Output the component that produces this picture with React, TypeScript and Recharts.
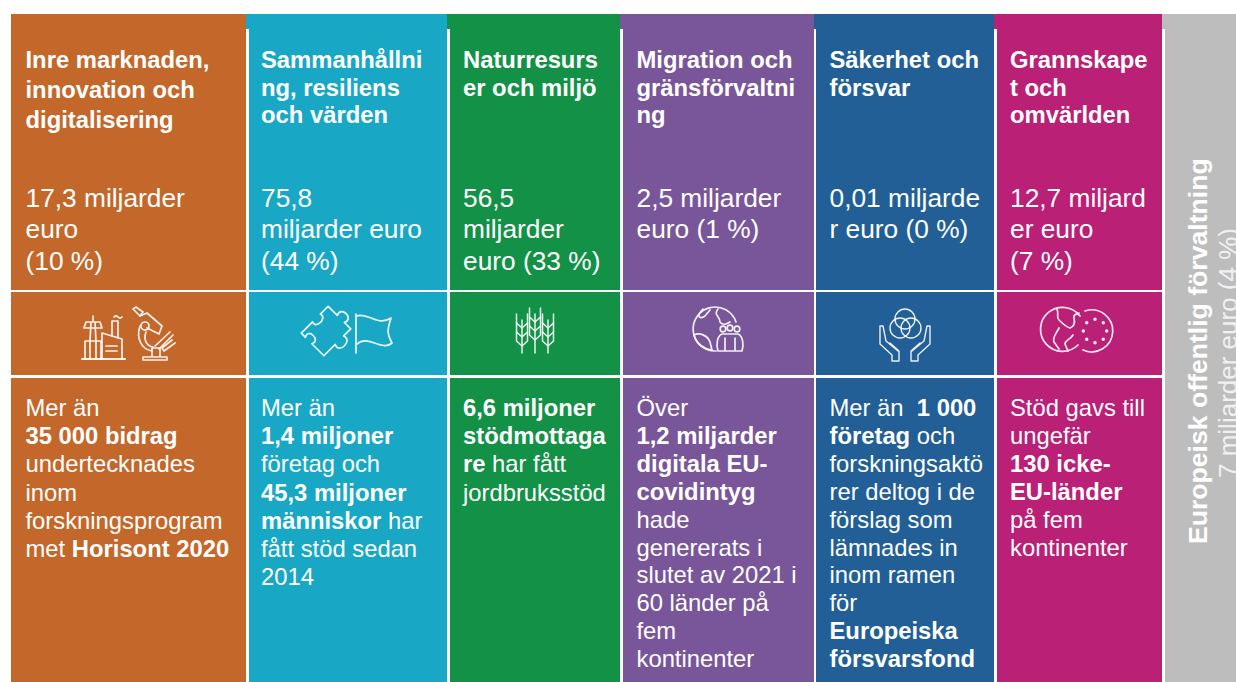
import React from "react";
import { BarChart, Bar, XAxis, YAxis } from "recharts";

const columnKeys = ["inre", "samman", "natur", "migration", "sakerhet", "grannskap", "forvaltning"];
const columnSpans = [235, 201, 173, 194, 180, 168, 74];
const columnColors = ["#C4672A", "#18A8C6", "#129147", "#795699", "#215F96", "#B92076", "#BDBDBD"];

const titles = [
  ["Inre marknaden,", "innovation och", "digitalisering"],
  ["Sammanhållni", "ng, resiliens", "och värden"],
  ["Naturresurs", "er och miljö"],
  ["Migration och", "gränsförvaltni", "ng"],
  ["Säkerhet och", "försvar"],
  ["Grannskape", "t och", "omvärlden"],
];

const amounts = [
  ["17,3 miljarder", "euro", "(10 %)"],
  ["75,8", "miljarder euro", "(44 %)"],
  ["56,5", "miljarder", "euro (33 %)"],
  ["2,5 miljarder", "euro (1 %)"],
  ["0,01 miljarde", "r euro (0 %)"],
  ["12,7 miljard", "er euro", "(7 %)"],
];

// **...** marks bold runs
const bodies = [
  ["Mer än", "**35 000 bidrag**", "undertecknades", "inom", "forskningsprogram", "met **Horisont 2020**"],
  ["Mer än", "**1,4 miljoner**", "företag och", "**45,3 miljoner**", "**människor** har", "fått stöd sedan", "2014"],
  ["**6,6 miljoner**", "**stödmottaga**", "**re** har fått", "jordbruksstöd"],
  ["Över", "**1,2 miljarder**", "**digitala EU-**", "**covidintyg**", "hade", "genererats i", "slutet av 2021 i", "60 länder på", "fem", "kontinenter"],
  ["Mer än  **1 000**", "**företag** och", "forskningsaktö", "rer deltog i de", "förslag som", "lämnades in", "inom ramen", "för", "**Europeiska**", "**försvarsfond**"],
  ["Stöd gavs till", "ungefär", "**130 icke-**", "**EU-länder**", "på fem", "kontinenter"],
];

const sideTitle = "Europeisk offentlig förvaltning";
const sideAmount = "7 miljarder euro (4 %)";

const chartRow = [Object.fromEntries(columnKeys.map((k, i) => [k, columnSpans[i]]))];

const FONT = "'Liberation Sans', Arial, sans-serif";
const textPad = [14.5, 15, 16, 16.5, 15.5, 16];
const gaps = [3, 3, 3, 2, 3, 3];
const titleStep = [30, 27.7, 27.7, 27.7, 27.7, 27.7];
const bodyStep = [28.2, 28.2, 28.2, 27.9, 27.9, 28];

function richLine(line: string) {
  return line.split("**").map((part, i) => (
    <tspan key={i} fontWeight={i % 2 === 1 ? 700 : 400}>
      {part}
    </tspan>
  ));
}

function Wheat({ cx, top, bottom }: { cx: number; top: number; bottom: number }) {
  const rows = [0, 9, 18];
  return (
    <g>
      <path d={`M${cx},${top + 6} V${bottom}`} />
      {rows.map((r) => (
        <path
          key={r}
          d={`M${cx - 5.5},${top + r} V${top + r + 9} L${cx},${top + r + 14} L${cx + 5.5},${top + r + 9} V${top + r}`}
        />
      ))}
    </g>
  );
}

function Icon({ col }: { col: number }) {
  const common = { fill: "none", stroke: "#fff", strokeWidth: 1.7, strokeOpacity: 0.9, strokeLinejoin: "round" as const, strokeLinecap: "round" as const };
  if (col === 0) {
    return (
      <g {...common}>
        <path d="M82,359 H125" strokeWidth={2} />
        <path d="M85,359 V341 H101 V359 M90,359 V341 M96,359 V341" />
        <path d="M90,341 L91,322 H95 L96,341 M84,328 H102 L100,322 H86 Z M93,322 V316" />
        <path d="M102,359 V333 L122,339 V359 M106,346 H117 M106,351 H117" />
        <path d="M112,336 V321 H118 V338 M114,317 q2,-2 4,0 t4,0" />
        <path d="M133,309 L136,307 L143,312 L140,316 Z" />
        <path d="M140,316 L147,313 L162,326 L159,334 L147,328" />
        <circle cx={145} cy={326} r={4} />
        <path d="M140,326 C136,338 141,349 152,351 M146,332 C143,340 147,346 153,347" />
        <path d="M170,332 L155,346 M173,335 L159,349 M175,343 L164,351 L162,348 L172,340" />
        <path d="M143,360 H167 V357 H143 Z M152,357 V348 H160 V357" />
      </g>
    );
  }
  if (col === 1) {
    return (
      <g {...common}>
        <g transform="translate(326,331) rotate(45)">
          <path d="M-12,-19 H-3 C-8,-29 12,-29 7,-19 H16 V-9 C26,-13 26,8 16,3 V19 H-1 C4,10 -16,10 -10,19 H-16 V3 C-8,7 -8,-11 -16,-8 V-19 Z" />
        </g>
        <path d="M356,314 V353" />
        <path d="M357,316 C368,312 378,327 391,318 C388,328 386,332 392,343 C382,352 368,334 357,344" />
      </g>
    );
  }
  if (col === 2) {
    return (
      <g {...common} strokeWidth={1.5}>
        <Wheat cx={522} top={314} bottom={353} />
        <Wheat cx={535} top={308} bottom={353} />
        <Wheat cx={548} top={314} bottom={353} />
      </g>
    );
  }
  if (col === 3) {
    return (
      <g {...common}>
        <path d="M736,322 A22,22 0 1 0 716,351" />
        <path d="M703,309 C696,316 699,320 705,316 L710,310 M694,335 C700,332 708,336 710,342 L712,350 C704,349 696,344 694,335 Z M718,309 C713,315 720,316 720,322 C722,325 726,325 730,322" />
        <circle cx={723} cy={329} r={2.8} />
        <circle cx={730} cy={328} r={2.8} />
        <circle cx={737} cy={329} r={2.8} />
        <path d="M718,351 C716,345 717,336 722,334 H738 C743,336 744,345 742,351 Z M725,351 V338 M735,351 V338" />
      </g>
    );
  }
  if (col === 4) {
    return (
      <g {...common} strokeWidth={1.4}>
        <circle cx={905} cy={319} r={10} />
        <circle cx={900} cy={328} r={10} />
        <circle cx={911} cy={328} r={10} />
        <path d="M880,326 L883,326 L886,341 L898,351 M880,326 L880,344 L892,355 V361 H899 L899,351 L890,343" />
        <path d="M930,326 L927,326 L924,341 L912,351 M930,326 L930,344 L918,355 V361 H911 L911,351 L920,343" />
      </g>
    );
  }
  if (col === 5) {
    const stars = [0, 45, 90, 135, 180, 225, 270, 315];
    return (
      <g {...common}>
        <path d="M1080,316 A22,22 0 1 0 1078,345" />
        <path d="M1057,309 C1059,314 1056,317 1059,320 C1063,324 1066,327 1070,328 C1075,326 1075,322 1074,318 C1073,315 1076,314 1079,313" />
        <path d="M1059,328 C1056,334 1052,338 1054,342 L1059,349 M1073,335 C1070,340 1065,340 1065,344 L1068,351" />
        <path d="M1085,311 A21,21 0 1 1 1083,350" />
        {stars.map((a) => (
          <circle
            key={a}
            cx={1095 + 11.7 * Math.cos((a * Math.PI) / 180)}
            cy={331 + 11.7 * Math.sin((a * Math.PI) / 180)}
            r={0.9}
            fill="#fff"
          />
        ))}
      </g>
    );
  }
  return null;
}

function ColumnCell(props: any) {
  const { x, y, width, height, col } = props;
  const color = columnColors[col];
  const bottom = y + height;
  // the white rule sits on the left of each bar, later bars paint over earlier ones
  const leftRule = col > 0 ? <rect x={x} y={29} width={gaps[col - 1]} height={bottom - 29} fill="#fff" /> : null;
  if (col === 6) {
    return (
      <g fontFamily={FONT} fill="#fff">
        <rect x={x} y={y} width={width} height={height} fill={color} />
        {leftRule}
        <text transform="translate(1207,544) rotate(-90)" fontSize={26.6} fontWeight={700}>
          {sideTitle}
        </text>
        <text transform="translate(1237,478) rotate(-90)" fontSize={26} fillOpacity={0.8}>
          {sideAmount}
        </text>
      </g>
    );
  }
  const tx = x + textPad[col];
  return (
    <g fontFamily={FONT} fill="#fff">
      <rect x={x} y={y} width={width} height={height} fill={color} />
      <rect x={x} y={290} width={width} height={2} fill="#fff" />
      <rect x={x} y={375} width={width} height={3} fill="#fff" />
      {leftRule}
      {col === 0 && (
        <g fill={color}>
          <rect x={10} y={150} width={1} height={16} />
          <rect x={10} y={274} width={1} height={16} />
          <rect x={10} y={674} width={1} height={8} />
        </g>
      )}
      {titles[col].map((line, i) => (
        <text key={i} x={tx} y={68 + i * titleStep[col]} fontSize={23.8} fontWeight={700}>
          {line}
        </text>
      ))}
      {amounts[col].map((line, i) => (
        <text key={i} x={tx} y={206.5 + i * 31.5} fontSize={26.3}>
          {line}
        </text>
      ))}
      <Icon col={col} />
      {bodies[col].map((line, i) => (
        <text key={i} x={tx} y={416 + i * bodyStep[col]} fontSize={23.8} xmlSpace="preserve">
          {richLine(line)}
        </text>
      ))}
    </g>
  );
}

export default function App() {
  return (
    <div style={{ position: "absolute", left: 0, top: 0, width: 1236, height: 682, overflow: "hidden", background: "#fff" }}>
      <BarChart
        width={1236}
        height={682}
        data={chartRow}
        layout="vertical"
        barCategoryGap={0}
        margin={{ top: 14, right: 0, bottom: 0, left: 11 }}
      >
        <XAxis type="number" hide domain={[0, 1225]} allowDataOverflow />
        <YAxis type="category" hide />
        {columnKeys.map((k, i) => (
          <Bar
            key={k}
            dataKey={k}
            stackId="budget"
            isAnimationActive={false}
            shape={(p: any) => <ColumnCell {...p} col={i} />}
          />
        ))}
      </BarChart>
    </div>
  );
}
